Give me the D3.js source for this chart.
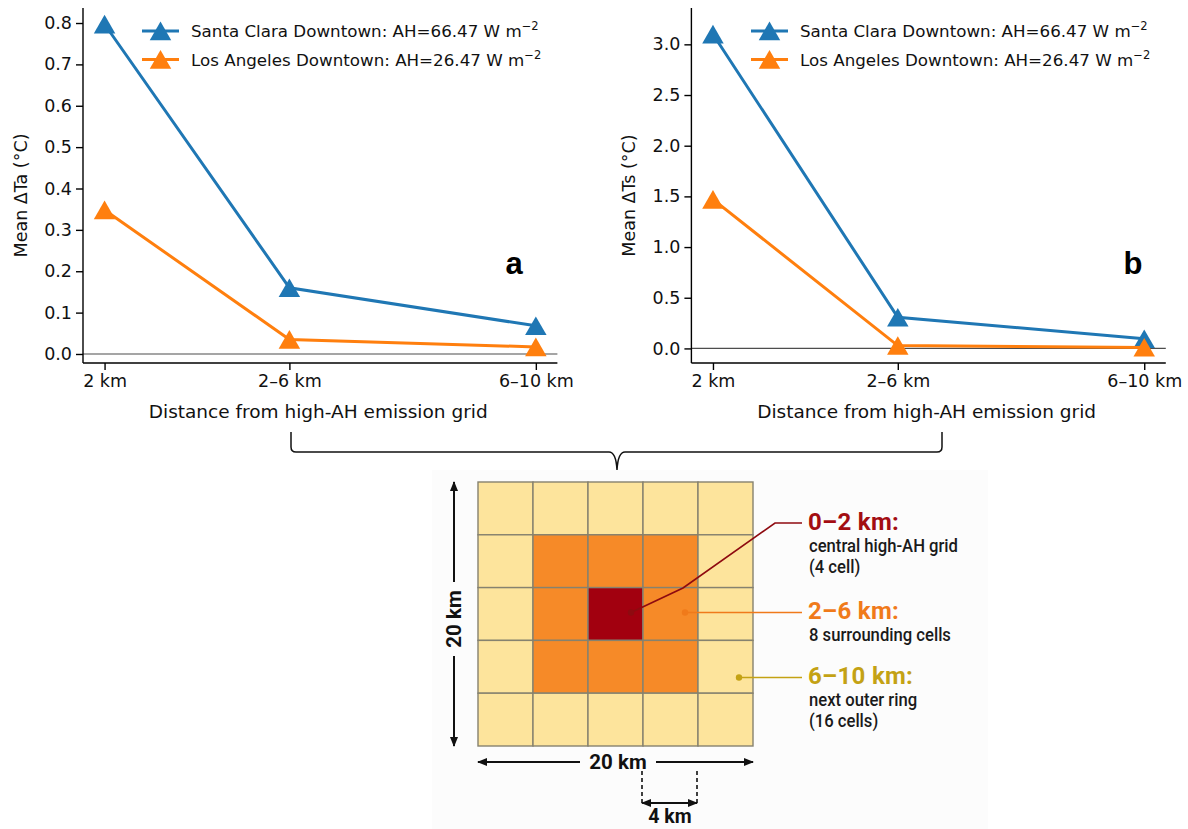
<!DOCTYPE html>
<html>
<head>
<meta charset="utf-8">
<script src="https://cdn.jsdelivr.net/npm/d3@7"></script>
<style>
  html, body { margin: 0; padding: 0; background: #ffffff; }
  svg { display: block; }
  .tick text { font-family: "DejaVu Sans", sans-serif; }
</style>
</head>
<body>
<svg id="fig" width="1188" height="829"></svg>
<script>
// Distance classes from the high-AH grid cell and their ring midpoints (km)
const categories = ["2 km", "2–6 km", "6–10 km"];
const ringMidKm = [1, 4, 8];

// Mean air-temperature change (°C)
const santaClaraTa = [0.797, 0.16, 0.068];
const losAngelesTa = [0.348, 0.035, 0.017];

// Mean surface-temperature change (°C)
const santaClaraTs = [3.10, 0.307, 0.095];
const losAngelesTs = [1.47, 0.028, 0.01];

const taTicks = [0.0, 0.1, 0.2, 0.3, 0.4, 0.5, 0.6, 0.7, 0.8];
const tsTicks = [0.0, 0.5, 1.0, 1.5, 2.0, 2.5, 3.0];

const seriesNames = [
  "Santa Clara Downtown: AH=66.47 W m",
  "Los Angeles Downtown: AH=26.47 W m"
];
const seriesColors = ["#1f77b4", "#ff7f0e"];

// Diagram: 5x5 grid of 4 km cells, ring index 0 = centre, 1 = first ring, 2 = outer ring
const gridSize = 5;
const ringColors = ["#a2000f", "#f68a28", "#fde49c"];
const ringLabels = ["0–2 km:", "2–6 km:", "6–10 km:"];
const ringLabelColors = ["#a30d12", "#f07a1a", "#c4a214"];
const ringDescriptions = [
  ["central high-AH grid", "(4 cell)"],
  ["8 surrounding cells"],
  ["next outer ring", "(16 cells)"]
];

const svg = d3.select("#fig");
const FONT = "DejaVu Sans, sans-serif";

function drawPanel(opts) {
  const { left, right, top, bottom, yDomain, yTicks, yFmt, data, yLabel, tag, tagX, legendX } = opts;
  const x = d3.scaleLinear().domain([0.65, 8.35]).range([left, right]);
  const y = d3.scaleLinear().domain(yDomain).range([bottom, top]);
  const g = svg.append("g");

  // zero reference line
  g.append("line")
    .attr("x1", left).attr("x2", right)
    .attr("y1", y(0)).attr("y2", y(0))
    .attr("stroke", "#4d4d4d").attr("stroke-width", 1.1);

  const yAxis = d3.axisLeft(y).tickValues(yTicks).tickFormat(yFmt).tickSize(7).tickPadding(4);
  const ya = g.append("g").attr("transform", `translate(${left},0)`).call(yAxis);
  ya.select(".domain").attr("d", `M0,${bottom}V${top}`).attr("stroke-width", 1.4);
  ya.selectAll(".tick line").attr("stroke-width", 1.4);
  ya.selectAll(".tick text").attr("font-size", 17.5).attr("fill", "#111");

  const xAxis = d3.axisBottom(x).tickValues(ringMidKm)
    .tickFormat((d, i) => categories[i]).tickSize(7).tickPadding(5);
  const xa = g.append("g").attr("transform", `translate(0,${bottom})`).call(xAxis);
  xa.select(".domain").attr("d", `M${left},0H${right}`).attr("stroke-width", 1.4);
  xa.selectAll(".tick line").attr("stroke-width", 1.4);
  xa.selectAll(".tick text").attr("font-size", 17.5).attr("fill", "#111");

  ya.attr("font-family", FONT);
  xa.attr("font-family", FONT);

  g.append("text")
    .attr("transform", `translate(${left - 56},${(top + bottom) / 2 + 10}) rotate(-90)`)
    .attr("text-anchor", "middle")
    .attr("font-family", FONT).attr("font-size", 17.5).attr("fill", "#111")
    .text(yLabel);

  g.append("text")
    .attr("x", (left + right) / 2 - 2).attr("y", bottom + 55)
    .attr("text-anchor", "middle")
    .attr("font-family", FONT).attr("font-size", 18.5).attr("fill", "#111")
    .text("Distance from high-AH emission grid");

  const tri = d3.symbol().type(d3.symbolTriangle).size(200);
  const line = d3.line().x((d, i) => x(ringMidKm[i])).y(d => y(d));

  data.forEach((vals, s) => {
    g.append("path").datum(vals)
      .attr("d", line).attr("fill", "none")
      .attr("stroke", seriesColors[s]).attr("stroke-width", 3);
    g.selectAll(null).data(vals).enter().append("path")
      .attr("d", tri)
      .attr("transform", (d, i) => `translate(${x(ringMidKm[i])},${y(d) + 3})`)
      .attr("fill", seriesColors[s]);
  });

  // legend
  seriesNames.forEach((name, s) => {
    const ly = 31 + s * 28.5;
    g.append("line")
      .attr("x1", legendX).attr("x2", legendX + 37)
      .attr("y1", ly).attr("y2", ly)
      .attr("stroke", seriesColors[s]).attr("stroke-width", 3);
    g.append("path").attr("d", tri)
      .attr("transform", `translate(${legendX + 18.5},${ly + 3})`)
      .attr("fill", seriesColors[s]);
    const t = g.append("text")
      .attr("x", legendX + 49).attr("y", ly + 6)
      .attr("font-family", FONT).attr("font-size", 16.7).attr("fill", "#111")
      .text(name);
    t.append("tspan").attr("dy", -7).attr("font-size", 11.5).text("−2");
  });

  g.append("text")
    .attr("x", tagX).attr("y", 274)
    .attr("text-anchor", "middle")
    .attr("font-family", "Liberation Sans, Arial, sans-serif")
    .attr("font-weight", "bold").attr("font-size", 31).attr("fill", "#000")
    .text(tag);
}

drawPanel({
  left: 83, right: 557.4, top: 8, bottom: 363,
  yDomain: [-0.0218, 0.8363], yTicks: taTicks, yFmt: d3.format(".1f"),
  data: [santaClaraTa, losAngelesTa],
  yLabel: "Mean ΔTa (°C)", tag: "a", tagX: 514, legendX: 142
});

drawPanel({
  left: 691.4, right: 1165.8, top: 8, bottom: 363,
  yDomain: [-0.1438, 3.3585], yTicks: tsTicks, yFmt: d3.format(".1f"),
  data: [santaClaraTs, losAngelesTs],
  yLabel: "Mean ΔTs (°C)", tag: "b", tagX: 1133, legendX: 751
});

// ---- brace linking both panels to the grid diagram ----
svg.append("path")
  .attr("d", "M291,432 V447 Q291,452 296,452 H609 Q616,452 617,470 Q618,452 625,452 H937 Q942,452 942,447 V432")
  .attr("fill", "none").attr("stroke", "#111").attr("stroke-width", 1.5);

// ---- grid diagram ----
const dg = svg.append("g");
dg.append("rect")
  .attr("x", 432).attr("y", 470).attr("width", 556).attr("height", 359)
  .attr("fill", "#fcfcfc");

const gx = d3.scaleLinear().domain([0, gridSize]).range([478, 753]);
const gy = d3.scaleLinear().domain([0, gridSize]).range([482, 746]);
const cells = [];
for (let r = 0; r < gridSize; r++) {
  for (let c = 0; c < gridSize; c++) {
    const ring = Math.max(Math.abs(r - 2), Math.abs(c - 2));
    cells.push({ r, c, ring });
  }
}
dg.selectAll("rect.cell").data(cells).enter().append("rect")
  .attr("class", "cell")
  .attr("x", d => gx(d.c)).attr("y", d => gy(d.r))
  .attr("width", gx(1) - gx(0)).attr("height", gy(1) - gy(0))
  .attr("fill", d => ringColors[d.ring])
  .attr("stroke", "#86826f").attr("stroke-width", 1.4);

const defs = svg.append("defs");
defs.append("marker")
  .attr("id", "ah").attr("viewBox", "0 0 10 10")
  .attr("refX", 9).attr("refY", 5)
  .attr("markerWidth", 10).attr("markerHeight", 10)
  .attr("markerUnits", "userSpaceOnUse")
  .attr("orient", "auto-start-reverse")
  .append("path").attr("d", "M0,1 L10,5 L0,9 Z").attr("fill", "#111");

const DFONT = "Roboto, sans-serif";

// vertical 20 km dimension
dg.append("line").attr("x1", 454).attr("x2", 454).attr("y1", 582).attr("y2", gy(0))
  .attr("stroke", "#111").attr("stroke-width", 2).attr("marker-end", "url(#ah)");
dg.append("line").attr("x1", 454).attr("x2", 454).attr("y1", 656).attr("y2", gy(gridSize))
  .attr("stroke", "#111").attr("stroke-width", 2).attr("marker-end", "url(#ah)");
dg.append("text")
  .attr("transform", "translate(461,619) rotate(-90)")
  .attr("text-anchor", "middle")
  .attr("font-family", DFONT).attr("font-weight", 700).attr("font-size", 20.5).attr("fill", "#111")
  .text("20 km");

// horizontal 20 km dimension
dg.append("line").attr("x1", 580).attr("x2", gx(0)).attr("y1", 762).attr("y2", 762)
  .attr("stroke", "#111").attr("stroke-width", 2).attr("marker-end", "url(#ah)");
dg.append("line").attr("x1", 656).attr("x2", gx(gridSize)).attr("y1", 762).attr("y2", 762)
  .attr("stroke", "#111").attr("stroke-width", 2).attr("marker-end", "url(#ah)");
dg.append("text")
  .attr("x", 618).attr("y", 769)
  .attr("text-anchor", "middle")
  .attr("font-family", DFONT).attr("font-weight", 700).attr("font-size", 20.5).attr("fill", "#111")
  .text("20 km");

// single-cell 4 km dimension
[gx(3) - 1, gx(4) - 1].forEach(xx => {
  dg.append("line").attr("x1", xx).attr("x2", xx).attr("y1", 771).attr("y2", 805)
    .attr("stroke", "#111").attr("stroke-width", 1.6).attr("stroke-dasharray", "4,3");
});
dg.append("line").attr("x1", gx(3) + 4).attr("x2", gx(3) - 1).attr("y1", 803).attr("y2", 803)
  .attr("stroke", "#111").attr("stroke-width", 1.8).attr("marker-end", "url(#ah)");
dg.append("line").attr("x1", gx(3) + 4).attr("x2", gx(4) - 1).attr("y1", 803).attr("y2", 803)
  .attr("stroke", "#111").attr("stroke-width", 1.8).attr("marker-end", "url(#ah)");
dg.append("text")
  .attr("x", 670).attr("y", 823)
  .attr("text-anchor", "middle")
  .attr("font-family", DFONT).attr("font-weight", 700).attr("font-size", 19.5).attr("fill", "#111")
  .text("4 km");

// ring annotations with leader lines
const leaders = [
  { pts: [[631, 612.5], [683, 588], [775, 523], [802, 523]], labelY: 530 },
  { pts: [[685, 612.5], [802, 612.5]], labelY: 619 },
  { pts: [[739, 677.5], [802, 677.5]], labelY: 684 }
];
leaders.forEach((ld, i) => {
  const col = i === 0 ? "#8e0a10" : ringLabelColors[i];
  dg.append("path")
    .attr("d", d3.line()(ld.pts))
    .attr("fill", "none").attr("stroke", col).attr("stroke-width", 1.6);
  dg.append("circle").attr("cx", ld.pts[0][0]).attr("cy", ld.pts[0][1]).attr("r", 3.2).attr("fill", col);
  dg.append("text")
    .attr("x", 808).attr("y", ld.labelY)
    .attr("font-family", DFONT).attr("font-weight", 700).attr("font-size", 24)
    .attr("letter-spacing", 0.3)
    .attr("fill", ringLabelColors[i])
    .text(ringLabels[i]);
  ringDescriptions[i].forEach((line, k) => {
    dg.append("text")
      .attr("transform", `translate(809,${ld.labelY + 22 + k * 21}) scale(0.9,1)`)
      .attr("font-family", DFONT).attr("font-weight", 500).attr("font-size", 18.5)
      .attr("fill", "#1a1a1a")
      .text(line);
  });
});
</script>
</body>
</html>
